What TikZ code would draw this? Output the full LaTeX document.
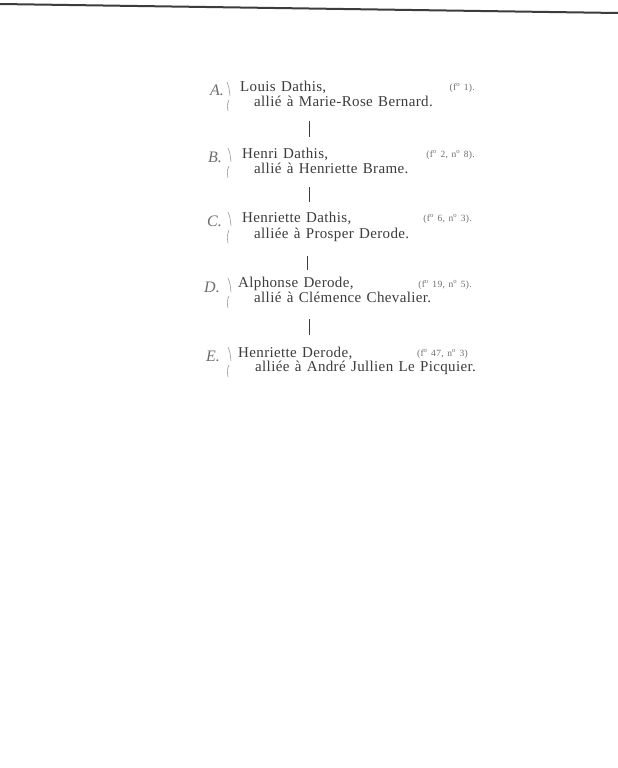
\documentclass[tikz,border=0pt]{standalone}
\usepackage{fontspec}
\setmainfont{Liberation Serif}
\newfontfamily\spaced{Liberation Serif}[LetterSpace=2.4,WordSpace=1.3]
\newfontfamily\smallspaced{Liberation Serif}[LetterSpace=4,WordSpace=1.3]
\definecolor{ink}{RGB}{60,60,60}
\definecolor{faint}{RGB}{110,110,110}
\begin{document}
\begin{tikzpicture}[x=1pt,y=-1pt,
  nametext/.style={anchor=base west,inner sep=0pt,font=\spaced\fontsize{15}{17}\selectfont,text=ink},
  reftext/.style={anchor=base east,inner sep=0pt,font=\smallspaced\fontsize{9.5}{11}\selectfont,text=faint},
  lettertext/.style={anchor=base east,inner sep=0pt,font=\itshape\fontsize{16}{18}\selectfont,text=faint},
  bracestroke/.style={draw=faint!70,line width=0.6pt},
  link/.style={draw=ink,line width=0.9pt}]
\useasboundingbox (0,0) rectangle (618,768);
\fill[white] (0,0) rectangle (618,768);
% scan edge at the top
\draw[ink,line width=2pt] (0,4) -- (618,13);

% A
\node[lettertext] (la) at (224,95) {A.};
\node[nametext] (a1) at (240,91) {Louis Dathis,};
\node[nametext] (a2) at (254,106) {allié à Marie-Rose Bernard.};
\node[reftext] (ra) at (475,90) {(f\textsuperscript{o} 1).};
\draw[bracestroke] (227,82) .. controls (229,87) .. (230,96);
\draw[bracestroke] (229,100) .. controls (227,105) .. (228,111);
% B
\node[lettertext] (lb) at (222,162) {B.};
\node[nametext] (b1) at (242,158) {Henri Dathis,};
\node[nametext] (b2) at (254,173) {allié à Henriette Brame.};
\node[reftext] (rb) at (475,157) {(f\textsuperscript{o} 2, n\textsuperscript{o} 8).};
\draw[bracestroke] (228,148) .. controls (230,153) .. (231,162);
\draw[bracestroke] (229,166) .. controls (227,171) .. (228,178);
% C
\node[lettertext] (lc) at (222,226) {C.};
\node[nametext] (c1) at (242,222) {Henriette Dathis,};
\node[nametext] (c2) at (254,238) {alliée à Prosper Derode.};
\node[reftext] (rc) at (472,221) {(f\textsuperscript{o} 6, n\textsuperscript{o} 3).};
\draw[bracestroke] (228,212) .. controls (230,217) .. (231,226);
\draw[bracestroke] (229,230) .. controls (227,236) .. (228,243);
% D
\node[lettertext] (ld) at (220,292) {D.};
\node[nametext] (d1) at (238,287) {Alphonse Derode,};
\node[nametext] (d2) at (254,302) {allié à Clémence Chevalier.};
\node[reftext] (rd) at (472,287) {(f\textsuperscript{o} 19, n\textsuperscript{o} 5).};
\draw[bracestroke] (228,278) .. controls (230,283) .. (231,292);
\draw[bracestroke] (229,296) .. controls (227,301) .. (228,308);
% E
\node[lettertext] (le) at (220,361) {E.};
\node[nametext] (e1) at (238,357) {Henriette Derode,};
\node[nametext] (e2) at (255,371) {alliée à André Jullien Le Picquier.};
\node[reftext] (re) at (468,356) {(f\textsuperscript{o} 47, n\textsuperscript{o} 3)};
\draw[bracestroke] (228,347) .. controls (230,352) .. (231,361);
\draw[bracestroke] (229,365) .. controls (227,370) .. (228,377);

% links
\coordinate (ab1) at (309,121); \coordinate (ab2) at (309,137);
\coordinate (bc1) at (309,187); \coordinate (bc2) at (309,202);
\coordinate (cd1) at (307,256); \coordinate (cd2) at (307,270);
\coordinate (de1) at (309,319); \coordinate (de2) at (309,335);
\draw[link] (ab1) -- (ab2);
\draw[link] (bc1) -- (bc2);
\draw[link] (cd1) -- (cd2);
\draw[link] (de1) -- (de2);
\end{tikzpicture}
\end{document}
